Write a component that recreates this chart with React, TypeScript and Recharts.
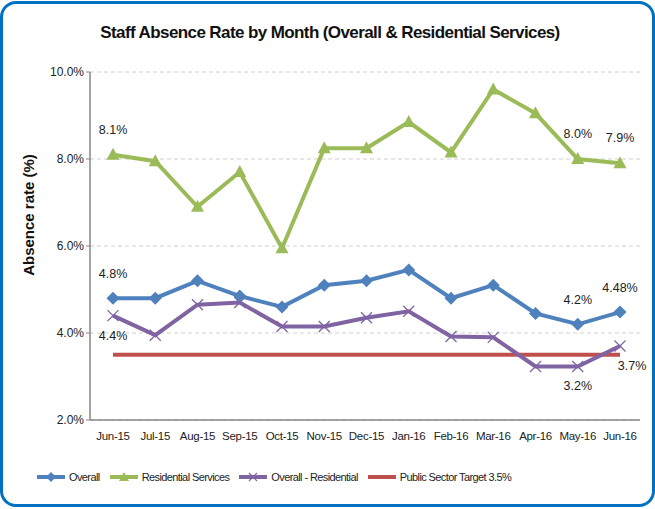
import {
    LineChart,
    Line,
    XAxis,
    YAxis,
    CartesianGrid,
    Legend,
    LabelList
} from "recharts";

const months = ["Jun-15", "Jul-15", "Aug-15", "Sep-15", "Oct-15", "Nov-15", "Dec-15", "Jan-16", "Feb-16", "Mar-16", "Apr-16", "May-16", "Jun-16"];
const overall = [4.8, 4.8, 5.2, 4.85, 4.6, 5.1, 5.2, 5.45, 4.8, 5.1, 4.45, 4.2, 4.48];
const residential = [8.1, 7.95, 6.9, 7.7, 5.95, 8.25, 8.25, 8.85, 8.15, 9.6, 9.05, 8.0, 7.9];
const overallMinusResidential = [4.4, 3.95, 4.65, 4.7, 4.15, 4.15, 4.35, 4.5, 3.92, 3.9, 3.23, 3.23, 3.7];
const target = [3.5, 3.5, 3.5, 3.5, 3.5, 3.5, 3.5, 3.5, 3.5, 3.5, 3.5, 3.5, 3.5];
const overallLabels = ["4.8%", "", "", "", "", "", "", "", "", "", "", "4.2%", "4.48%"];
const residentialLabels = ["8.1%", "", "", "", "", "", "", "", "", "", "", "8.0%", "7.9%"];
const diffLabels = ["4.4%", "", "", "", "", "", "", "", "", "", "", "3.2%", "3.7%"];
const yTicks = [2, 4, 6, 8, 10];

const data = months.map((m, i) => ({
    month: m,
    overall: overall[i],
    residential: residential[i],
    diff: overallMinusResidential[i],
    target: target[i],
    overallLabel: overallLabels[i],
    residentialLabel: residentialLabels[i],
    diffLabel: diffLabels[i]
}));

const FONT = "'Liberation Sans', Arial, sans-serif";
const BLUE = "#4F81BD";
const GREEN = "#9BBB59";
const PURPLE = "#8064A2";
const RED = "#C0504D";

const Diamond = (props: any) => {
    const { cx, cy } = props;
    if (cx == null || cy == null) return <g key={props.index} />;
    const r = 6.5;
    return <path key={props.index} d={`M${cx},${cy - r}L${cx + r},${cy}L${cx},${cy + r}L${cx - r},${cy}Z`} fill={BLUE} />;
};

const Triangle = (props: any) => {
    const { cx, cy } = props;
    if (cx == null || cy == null) return <g key={props.index} />;
    return <path key={props.index} d={`M${cx},${cy - 7}L${cx + 6.5},${cy + 5}L${cx - 6.5},${cy + 5}Z`} fill={GREEN} />;
};

const Cross = (props: any) => {
    const { cx, cy } = props;
    if (cx == null || cy == null) return <g key={props.index} />;
    const r = 5.5;
    return <path key={props.index} d={`M${cx - r},${cy - r}L${cx + r},${cy + r}M${cx - r},${cy + r}L${cx + r},${cy - r}`} stroke={PURPLE} strokeWidth={1.3} fill="none" />;
};

const makeLabel = (dy: number, lastDx: number) => (props: any) => {
    const { x, y, value, index } = props;
    if (!value) return null;
    const dx = index === months.length - 1 ? lastDx : 0;
    return (
        <text x={x + dx} y={y + dy} textAnchor="middle" fontFamily={FONT} fontSize={12.5} fill="#222">
            {value}
        </text>
    );
};

const legendItems = [
    { name: "Overall", color: BLUE, marker: "diamond" },
    { name: "Residential Services", color: GREEN, marker: "triangle" },
    { name: "Overall - Residential", color: PURPLE, marker: "cross" },
    { name: "Public Sector Target 3.5%", color: RED, marker: "none" }
];

const LegendIcon = ({ color, marker }: { color: string; marker: string }) => (
    <svg width={30} height={12} style={{ marginRight: 3 }}>
        <line x1={1} y1={6} x2={29} y2={6} stroke={color} strokeWidth={4} />
        {marker === "diamond" && <path d="M15,1L20,6L15,11L10,6Z" fill={color} />}
        {marker === "triangle" && <path d="M15,1L20,10L10,10Z" fill={color} />}
        {marker === "cross" && <path d="M11,2L19,10M11,10L19,2" stroke={color} strokeWidth={1.2} />}
    </svg>
);

const renderLegend = () => (
    <div style={{
        display: "flex", alignItems: "center", fontFamily: FONT, fontSize: 11, letterSpacing: -0.6,
        color: "#222", paddingLeft: 36, whiteSpace: "nowrap", width: 640
    }}>
        {legendItems.map((it) => (
            <div key={it.name} style={{ display: "flex", alignItems: "center", marginRight: 9 }}>
                <LegendIcon color={it.color} marker={it.marker} />
                <span>{it.name}</span>
            </div>
        ))}
    </div>
);

export default function App() {
    return (
        <div style={{ position: "absolute", left: 0, top: 0, width: 655, height: 509, background: "#fff" }}>
            <div style={{
                position: "absolute", left: 0, top: 1, width: 649, height: 500,
                border: "3px solid #0070C0", borderRadius: 16
            }} />
            <div style={{
                position: "absolute", left: 0, top: 23, width: 660, textAlign: "center",
                fontFamily: FONT, fontWeight: "bold", fontSize: 17, letterSpacing: -0.6, color: "#111"
            }}>
                Staff Absence Rate by Month (Overall &amp; Residential Services)
            </div>
            <div style={{
                position: "absolute", left: 28, top: 215, transform: "translate(-50%, -50%) rotate(-90deg)",
                fontFamily: FONT, fontWeight: "bold", fontSize: 15, color: "#111", whiteSpace: "nowrap"
            }}>
                Absence rate (%)
            </div>
            <div style={{ position: "absolute", left: 0, top: 0 }}>
                <LineChart width={655} height={509} data={data} margin={{ top: 72, right: 15, left: 30, bottom: 18 }}>
                    <CartesianGrid vertical={false} stroke="#D0D0D0" strokeDasharray="4 3" />
                    <XAxis
                        dataKey="month"
                        height={51}
                        padding={{ left: 23, right: 20 }}
                        tickLine={false}
                        axisLine={{ stroke: "#868686", strokeWidth: 1.5 }}
                        tick={{ fontFamily: FONT, fontSize: 11.5, fill: "#222", letterSpacing: -0.3 }}
                        interval={0}
                        tickMargin={6}
                    />
                    <YAxis
                        width={60}
                        domain={[2, 10]}
                        ticks={yTicks}
                        tickFormatter={(v: number) => v.toFixed(1) + "%"}
                        axisLine={{ stroke: "#868686", strokeWidth: 1.5 }}
                        tickLine={{ stroke: "#868686" }}
                        tickSize={4}
                        tick={{ fontFamily: FONT, fontSize: 12, fill: "#222" }}
                    />
                    <Legend verticalAlign="bottom" height={20} content={renderLegend} wrapperStyle={{ left: 0, width: 655 }} />
                    <Line dataKey="target" name="Public Sector Target 3.5%" stroke={RED} strokeWidth={4} dot={false} isAnimationActive={false} />
                    <Line dataKey="diff" name="Overall - Residential" stroke={PURPLE} strokeWidth={4} dot={Cross} isAnimationActive={false}>
                        <LabelList dataKey="diffLabel" content={makeLabel(24, 12)} />
                    </Line>
                    <Line dataKey="overall" name="Overall" stroke={BLUE} strokeWidth={4} dot={Diamond} isAnimationActive={false}>
                        <LabelList dataKey="overallLabel" content={makeLabel(-20, 0)} />
                    </Line>
                    <Line dataKey="residential" name="Residential Services" stroke={GREEN} strokeWidth={4} dot={Triangle} isAnimationActive={false}>
                        <LabelList dataKey="residentialLabel" content={makeLabel(-21, 0)} />
                    </Line>
                </LineChart>
            </div>
        </div>
    );
}
